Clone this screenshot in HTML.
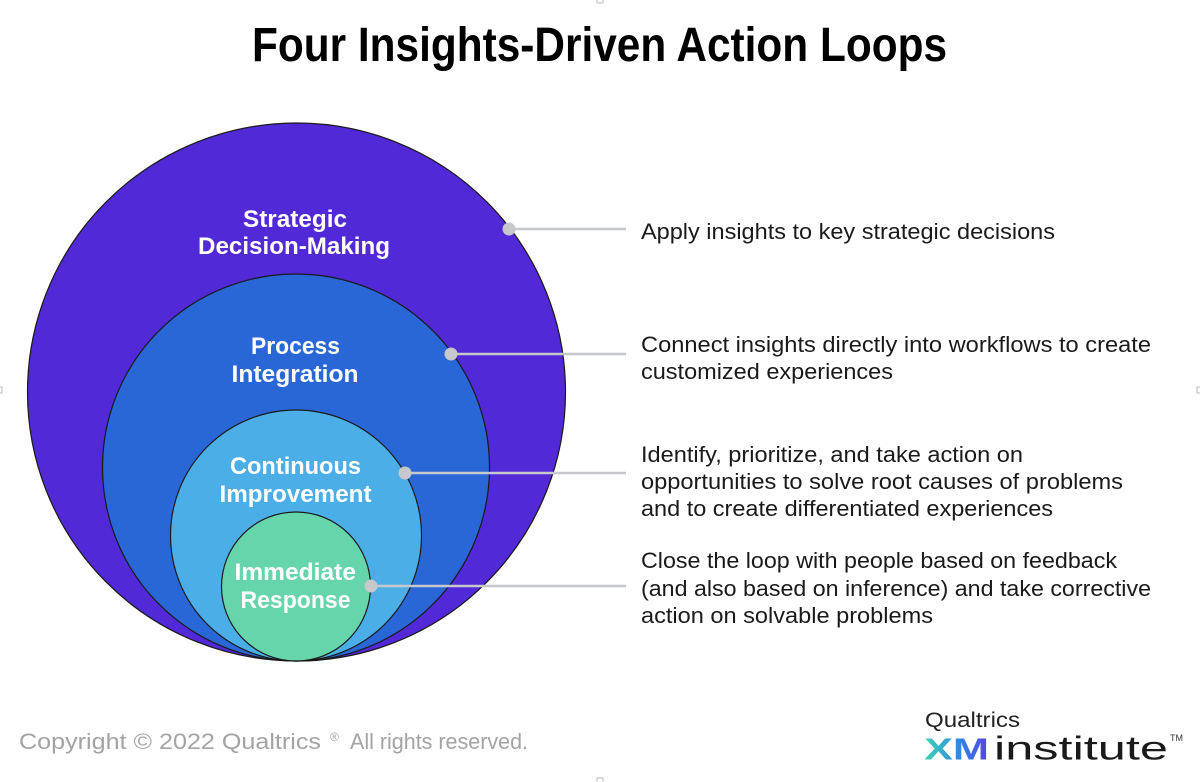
<!DOCTYPE html>
<html>
<head>
<meta charset="utf-8">
<style>
  html,body{margin:0;padding:0;background:#fff;}
  svg{display:block;}
  .lbl{font-family:"Liberation Sans",sans-serif;font-weight:bold;font-size:24px;fill:#fff;}
  .desc{font-family:"Liberation Sans",sans-serif;font-size:22px;fill:#1a1a1a;}
</style>
</head>
<body>
<svg width="1200" height="782" viewBox="0 0 1200 782" xmlns="http://www.w3.org/2000/svg">
  <defs>
    <linearGradient id="xm" x1="924" y1="0" x2="990" y2="0" gradientUnits="userSpaceOnUse">
      <stop offset="0" stop-color="#3fd3b0"/>
      <stop offset="0.55" stop-color="#2f86e6"/>
      <stop offset="1" stop-color="#5a3fe0"/>
    </linearGradient>
  </defs>
  <rect width="1200" height="782" fill="#fff"/>

  <!-- small frame handles -->
  <rect x="597" y="-2" width="6" height="5" fill="none" stroke="#bbb" stroke-width="1"/>
  <rect x="597" y="778" width="6" height="5" fill="none" stroke="#bbb" stroke-width="1"/>
  <rect x="-2" y="387" width="4" height="6" fill="none" stroke="#bbb" stroke-width="1"/>
  <rect x="1197" y="387" width="4" height="6" fill="none" stroke="#bbb" stroke-width="1"/>

  <!-- Title -->
  <text x="252" y="61" font-family="Liberation Sans, sans-serif" font-weight="bold" font-size="48" fill="#000" textLength="695" lengthAdjust="spacingAndGlyphs">Four Insights-Driven Action Loops</text>

  <!-- Circles -->
  <circle cx="296.5" cy="392" r="269" fill="#5129d6" stroke="#1a1a1a" stroke-width="1.2"/>
  <circle cx="296" cy="467.5" r="193.5" fill="#2967d6" stroke="#1a1a1a" stroke-width="1.2"/>
  <circle cx="296" cy="535.5" r="125.5" fill="#4caee6" stroke="#1a1a1a" stroke-width="1.2"/>
  <circle cx="296" cy="586.5" r="74.5" fill="#66d5ab" stroke="#1a1a1a" stroke-width="1.2"/>

  <!-- Circle labels -->
  <text class="lbl" x="243" y="227" textLength="104" lengthAdjust="spacingAndGlyphs">Strategic</text>
  <text class="lbl" x="198" y="254" textLength="192" lengthAdjust="spacingAndGlyphs">Decision-Making</text>
  <text class="lbl" x="251" y="354" textLength="89" lengthAdjust="spacingAndGlyphs">Process</text>
  <text class="lbl" x="231.5" y="382" textLength="127" lengthAdjust="spacingAndGlyphs">Integration</text>
  <text class="lbl" x="230" y="474" textLength="131" lengthAdjust="spacingAndGlyphs">Continuous</text>
  <text class="lbl" x="219.5" y="502" textLength="152" lengthAdjust="spacingAndGlyphs">Improvement</text>
  <text class="lbl" x="234.5" y="580" textLength="121.5" lengthAdjust="spacingAndGlyphs">Immediate</text>
  <text class="lbl" x="240.5" y="608" textLength="110" lengthAdjust="spacingAndGlyphs">Response</text>

  <!-- Connectors -->
  <g stroke="#c6c8cb" stroke-width="2.5">
    <line x1="509" y1="229" x2="626" y2="229"/>
    <line x1="451" y1="354" x2="626" y2="354"/>
    <line x1="405" y1="473" x2="626" y2="473"/>
    <line x1="371" y1="586" x2="626" y2="586"/>
  </g>
  <g fill="#c6c8cb">
    <circle cx="509" cy="229" r="6.5"/>
    <circle cx="451" cy="354" r="6.5"/>
    <circle cx="405" cy="473" r="6.5"/>
    <circle cx="371" cy="586" r="6.5"/>
  </g>

  <!-- Descriptions -->
  <text class="desc" x="641" y="239" textLength="414" lengthAdjust="spacingAndGlyphs">Apply insights to key strategic decisions</text>

  <text class="desc" x="641" y="352" textLength="510" lengthAdjust="spacingAndGlyphs">Connect insights directly into workflows to create</text>
  <text class="desc" x="641" y="379" textLength="252" lengthAdjust="spacingAndGlyphs">customized experiences</text>

  <text class="desc" x="641" y="462" textLength="382" lengthAdjust="spacingAndGlyphs">Identify, prioritize, and take action on</text>
  <text class="desc" x="641" y="489" textLength="482" lengthAdjust="spacingAndGlyphs">opportunities to solve root causes of problems</text>
  <text class="desc" x="641" y="516" textLength="412" lengthAdjust="spacingAndGlyphs">and to create differentiated experiences</text>

  <text class="desc" x="641" y="568" textLength="476" lengthAdjust="spacingAndGlyphs">Close the loop with people based on feedback</text>
  <text class="desc" x="641" y="596" textLength="510" lengthAdjust="spacingAndGlyphs">(and also based on inference) and take corrective</text>
  <text class="desc" x="641" y="623" textLength="292" lengthAdjust="spacingAndGlyphs">action on solvable problems</text>

  <!-- Copyright -->
  <text x="19" y="749" font-family="Liberation Sans, sans-serif" font-size="22" fill="#a3a3a3" textLength="302" lengthAdjust="spacingAndGlyphs">Copyright © 2022 Qualtrics</text>
  <text x="330" y="741" font-family="Liberation Sans, sans-serif" font-size="12" fill="#a3a3a3">®</text>
  <text x="350" y="749" font-family="Liberation Sans, sans-serif" font-size="22" fill="#a3a3a3" textLength="178" lengthAdjust="spacingAndGlyphs">All rights reserved.</text>

  <!-- Logo -->
  <text x="925" y="727" font-family="Liberation Sans, sans-serif" font-size="21" fill="#222" textLength="95" lengthAdjust="spacingAndGlyphs">Qualtrics</text>
  <text x="924" y="759.5" font-family="Liberation Sans, sans-serif" font-weight="bold" font-size="31" fill="url(#xm)" textLength="65" lengthAdjust="spacingAndGlyphs">XM</text>
  <text x="994" y="759.5" font-family="Liberation Sans, sans-serif" font-size="33" fill="#1a1a1a" textLength="174" lengthAdjust="spacingAndGlyphs">institute</text>
  <text x="1170" y="741" font-family="Liberation Sans, sans-serif" font-size="9" fill="#333">TM</text>
</svg>
</body>
</html>
